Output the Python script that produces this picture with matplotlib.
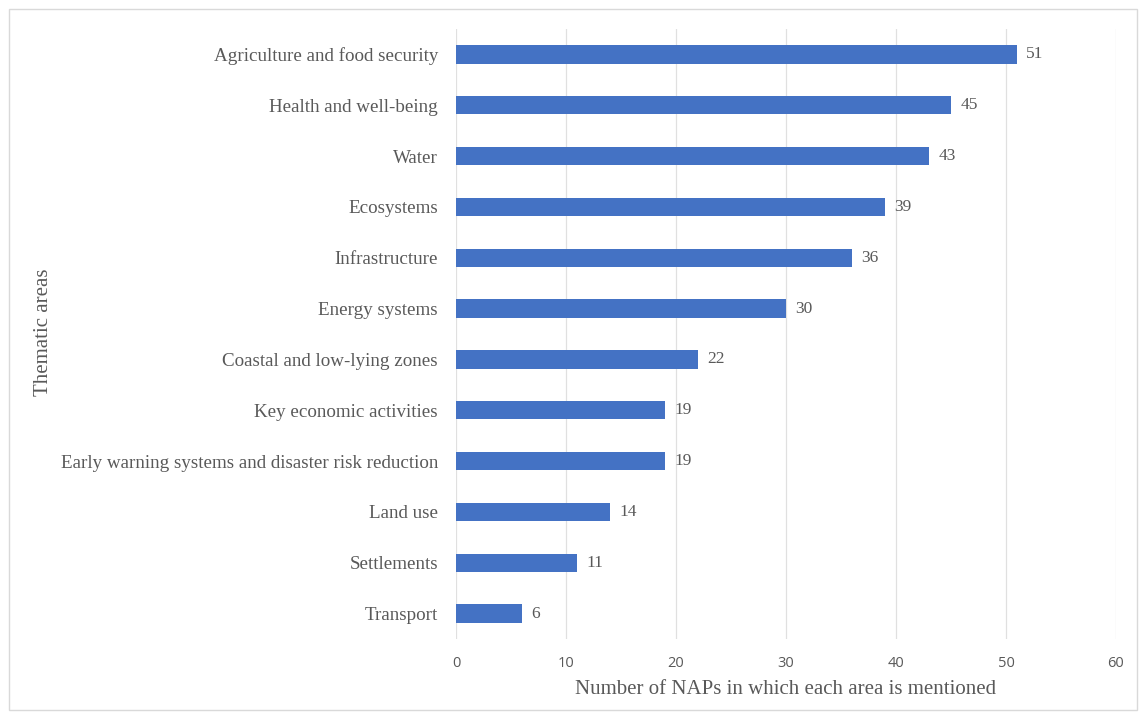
import matplotlib
matplotlib.use("Agg")
import matplotlib.pyplot as plt
from matplotlib.patches import Rectangle

categories = ["Agriculture and food security", "Health and well-being", "Water",
              "Ecosystems", "Infrastructure", "Energy systems",
              "Coastal and low-lying zones", "Key economic activities",
              "Early warning systems and disaster risk reduction", "Land use",
              "Settlements", "Transport"]
values = [51, 45, 43, 39, 36, 30, 22, 19, 19, 14, 11, 6]
xticks = [0, 10, 20, 30, 40, 50, 60]

fig = plt.figure(figsize=(11.44, 7.13), dpi=100)
ax = fig.add_axes([456/1144, 1-639/713, (1116-456)/1144, (639-29)/713])

serif = "Liberation Serif"
grey = "#595959"
pos = list(range(len(categories)))[::-1]
ax.barh(pos, values, height=0.36, color="#4472C4", zorder=3)
for p, v in zip(pos, values):
    ax.text(v + 0.85, p, str(v), va="center", ha="left", fontsize=12.5,
            family=serif, color=grey)

ax.set_xlim(0, 60)
ax.set_ylim(-0.5, len(categories) - 0.5)
ax.set_xticks(xticks)
ax.set_xticklabels([str(t) for t in xticks], fontsize=10.5, family="Open Sans", color=grey)
ax.set_yticks(pos)
ax.set_yticklabels(categories, fontsize=13.7, family=serif, color=grey)
ax.tick_params(axis="both", length=0)
ax.tick_params(axis="x", pad=12)
ax.tick_params(axis="y", pad=13)
ax.grid(axis="x", color="#e0e0e0", linewidth=0.9, zorder=0)
for s in ax.spines.values():
    s.set_visible(False)

ax.set_xlabel("Number of NAPs in which each area is mentioned", fontsize=15,
              family=serif, color=grey, labelpad=7)
fig.text(44/1144, 1-332/713, "Thematic areas", rotation=90, fontsize=15,
         family=serif, color=grey, ha="center", va="center")

fig.patches.append(Rectangle((9/1144, 1-710/713), 1128/1144, 701/713,
                             transform=fig.transFigure, fill=False,
                             edgecolor="#d9d9d9", linewidth=1))

fig.savefig("out.png", dpi=100)
